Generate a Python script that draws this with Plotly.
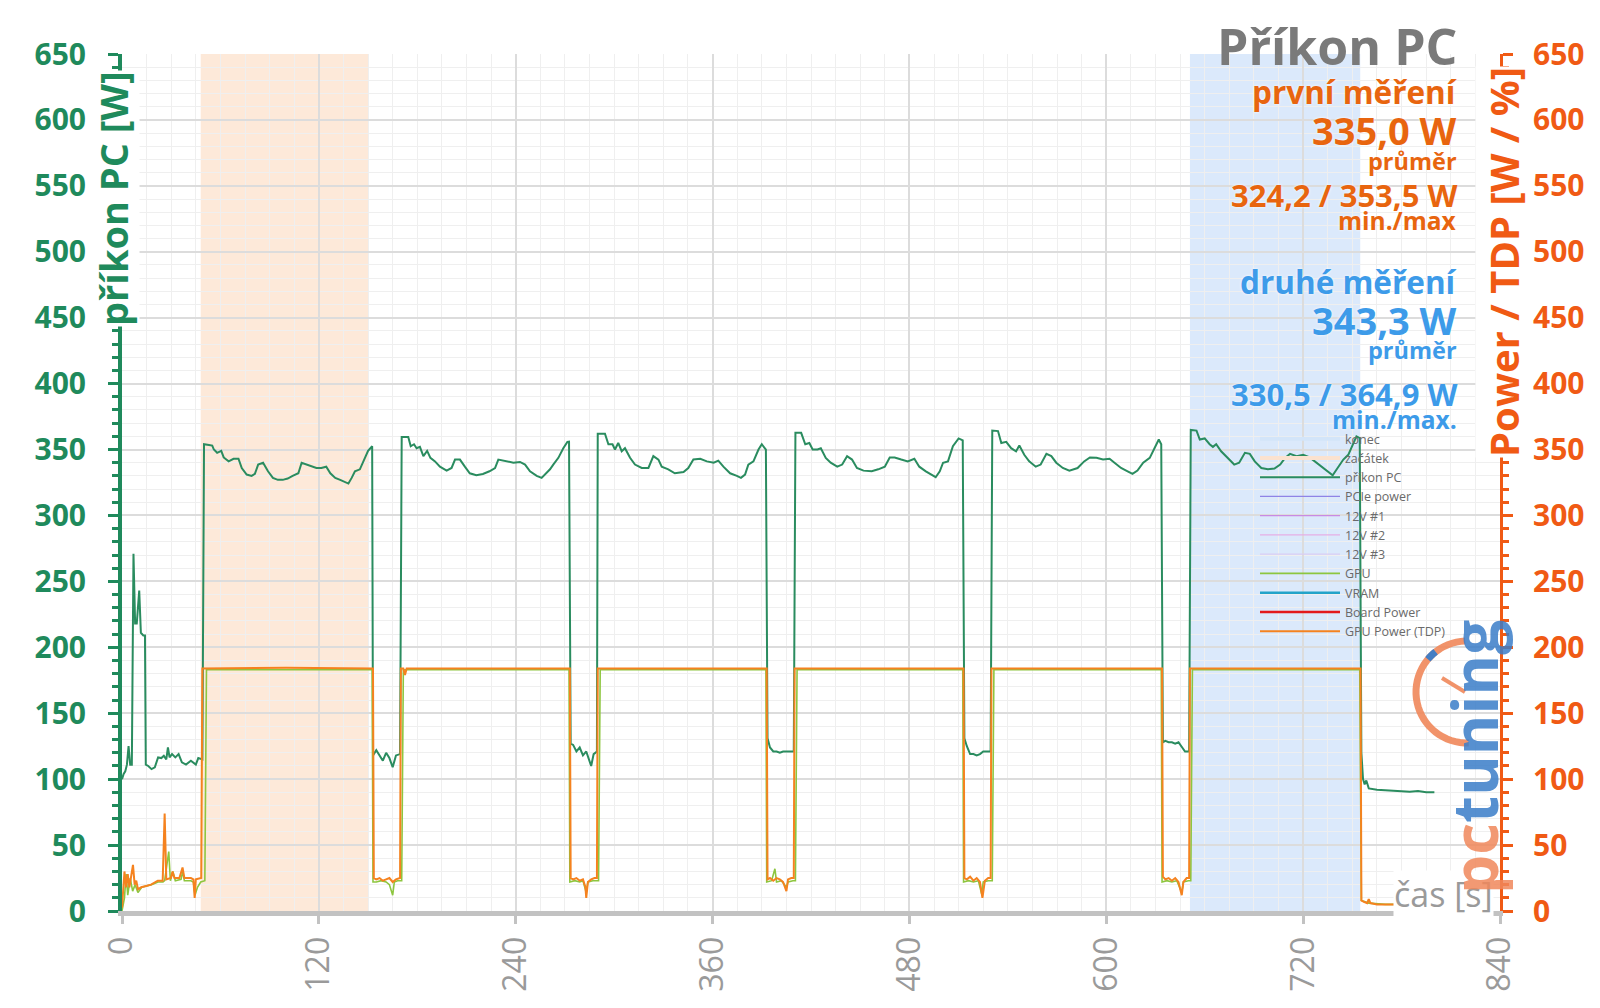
import math
import plotly.graph_objects as go

# ---------------- data ----------------
# příkon PC [W]  (time [s], value)
pc_t = [0, 1, 2, 3, 4, 5, 6, 7, 8, 9, 10.5, 11.5, 13, 14, 14.5, 16, 18, 20, 22, 24, 25.5, 27, 28, 29, 30.5, 32.5, 34.5, 36.5, 39, 42, 45, 46.5, 49,
        50, 53, 55, 56, 58, 60.5, 62, 65, 68, 71, 73, 76, 79, 81, 83, 86, 89, 92, 95, 98, 101, 104, 107.5, 109.5, 112.5, 115.5, 118.5, 121.5, 124.5, 127, 130, 133, 136, 138, 140, 142, 145, 147, 150, 152.5,
        153, 155, 157, 159, 161, 163, 165, 167, 169.5,
        170.5, 174.5, 176, 178, 179.6, 181.6, 183.7, 186, 188, 190.8, 193.8, 197.9, 200.9, 203, 206, 209, 212, 216, 220, 224, 227.4, 229.4, 232.5, 235.5, 238.6, 242.6, 245.7, 248.7, 252.8, 255.8, 257.9, 260.9, 262.9, 266, 269, 271.5, 272.5,
        273.5, 275, 277, 279, 281, 283, 285, 286, 287.5, 289.5,
        290, 294.4, 296.5, 299, 300.5, 302.5, 304.6, 306.6, 309.7, 312.7, 316.8, 320.9, 323.9, 327, 329, 333, 337, 342.3, 345.2, 348.3, 352.5, 356.5, 360.7, 363.5, 366.6, 370.7, 374.8, 377.3, 379.8, 381.8, 384.9, 388, 390, 391.5, 392.5,
        393.5, 395, 397, 399, 401, 403, 405, 407, 409.5,
        410.5, 414, 416.5, 419, 421, 424, 426, 429, 432, 436, 439, 442, 445, 448, 452, 457, 461, 465, 468, 471, 475, 479, 483, 486, 490, 493.5, 496, 498.5, 500.5, 503.5, 506.5, 510, 512.5,
        513.5, 515, 517, 519, 521, 523, 525, 527, 529.5,
        530.5, 534, 536, 539, 542, 545, 547, 550, 553, 557, 560, 563.5, 566.5, 569.5, 573.5, 577.5, 582.5, 586.5, 590, 594, 598, 602, 605, 609, 613, 616, 619, 622.5, 626.5, 629.5, 632, 633.5,
        634.5, 636, 638, 640, 642, 644, 646, 648, 650.5,
        651.5, 655, 657, 660, 663, 665, 667, 670, 674, 678, 681, 684.5, 687.5, 690.5, 694.5, 698.5, 702.5, 706, 709, 712, 716, 720, 724, 727, 731, 735, 738, 741, 744.5, 747.5, 750.5, 752.5, 754.5,
        755.5, 756.5, 757.5, 758.5, 760, 765, 770, 775, 780, 785, 790, 795, 800]
pc_w = [100, 104, 106, 111, 125, 111, 111, 271, 218, 218, 243, 211, 209, 209, 111, 110, 107.6, 109, 116.5, 116, 117.7, 115, 124, 116.5, 119, 116.5, 119, 112.7, 111, 114, 111, 116, 115,
        354, 353.5, 353, 350, 347.5, 349, 344, 341, 343, 343, 336, 331, 330, 331.5, 338.6, 340, 333.5, 328.5, 327, 327, 328, 330, 332, 340, 338.6, 337, 336, 336, 337, 332, 328.5, 327, 325.5, 324.2, 328.5, 333.5, 335, 341, 349, 352.5,
        118, 122, 118, 114, 120, 116, 109, 118, 119,
        359.6, 359.6, 352.5, 354, 351, 352, 345, 349, 343.7, 341, 337, 334, 336, 342.4, 342.4, 337, 332, 330.5, 331.5, 333.5, 336, 342.4, 341.6, 341, 340, 340.6, 338.6, 333.5, 330, 328.5, 331, 335, 338.6, 343.7, 351, 355.8, 356,
        127, 126, 121, 124, 118, 121, 114, 110, 119, 121,
        362, 362, 354, 354, 350, 355, 348.7, 351, 343.7, 338.6, 336, 336, 345, 342.4, 337, 335, 332, 333, 336, 342.4, 343, 341, 340, 341.6, 337, 332, 330, 328.5, 331, 338.6, 341, 350, 354, 351, 350,
        131, 124, 121, 121, 120, 121, 121, 121, 121,
        362.7, 362.7, 354, 355, 350, 350, 351, 343.7, 340, 337, 338.6, 345, 342.4, 336, 334, 333.5, 335, 337, 344, 344, 342.4, 341, 343, 337, 333.5, 331, 329, 333.5, 340, 341, 352.5, 358.4, 357,
        131, 125, 119, 119, 118, 119, 121, 121, 121,
        364.4, 364, 355, 355.8, 351, 348.7, 353, 346, 341, 337, 338.6, 346.7, 345, 340, 336, 334, 336, 341, 344, 343.7, 342.4, 343, 340, 336, 333.5, 331.5, 334, 340, 343.7, 352, 357.6, 354,
        128, 129, 128, 128, 127, 128, 124, 121, 121,
        364.9, 364.4, 357.6, 358.4, 354, 352, 354, 348.7, 343.7, 338.6, 340, 347.5, 346.7, 341, 336, 335, 335.6, 338.6, 343.7, 346.7, 345, 346, 344, 341, 337, 333.5, 330.5, 336, 342.4, 346, 354, 360, 358.7,
        120, 100, 96, 99, 93, 92, 91.5, 91, 91, 90.5, 91, 90, 90]

# GPU Power (TDP) [W]
tdp_t = [0, 1.5, 2.5, 3.5, 4.5, 5.5, 6.7, 7.7, 8.7, 9.7, 11.7, 14.7, 17.7, 21.8, 24.8, 26, 27, 29.8, 30.8, 32, 35, 36.9, 38, 42, 43.5, 44.3, 45, 48.3,
         49, 100, 153,
         153.5, 155, 157, 159, 161, 163, 165, 167, 169.5,
         170, 171.5, 172.5, 173.5, 273,
         273.5, 275, 277, 279, 281, 282.5, 283, 284, 286, 288, 289.5,
         290, 393,
         393.5, 395, 397, 399, 401, 403, 405, 406, 408, 409.5,
         410, 513,
         513.5, 515, 517, 519, 521, 523, 524.5, 526, 528, 529.5,
         530, 634,
         634.5, 636, 638, 640, 642, 644, 646, 647, 649, 650.5,
         651, 755,
         755.5, 757, 759, 760, 761, 765, 770, 780, 790, 800]
tdp_w = [2.5, 30, 18, 28, 18, 26, 35, 20, 23, 16.5, 18, 19, 20, 23, 23, 74, 24, 25, 30, 25, 25, 33, 25, 25, 24, 10, 24, 25,
         184, 184.5, 184,
         25, 24, 25, 23, 24, 25, 22, 24, 25,
         184, 184, 179, 184, 184,
         25, 24, 25, 23, 24, 18, 10, 22, 24, 25, 25,
         184, 184,
         24, 25, 23, 25, 24, 22, 15, 24, 25, 25,
         184, 184,
         25, 24, 26, 23, 25, 22, 10, 23, 25, 25,
         184, 184,
         26, 24, 25, 23, 25, 22, 12, 22, 25, 25,
         184, 184,
         8, 7, 6, 9, 6, 5, 5, 5, 5, 5]

# GPU [W]
gpu_t = [0, 1.5, 2.5, 3.5, 5, 6.5, 8, 9.7, 12, 15, 18, 22, 25, 26, 28.5, 29.5, 31, 32.5, 36, 37, 38, 42, 43.5, 44.5, 46, 48, 50.5,
         51.5, 152.5,
         153, 155, 158, 161, 163, 165, 166, 168, 170.5,
         171.5, 272.5,
         273, 276, 279, 281, 283, 284, 287, 290.5,
         291.5, 392.5,
         393, 396, 398, 399, 402, 405, 406, 409, 410.5,
         411.5, 512.5,
         513, 516, 519, 522, 524, 525, 528, 530.5,
         531.5, 633.5,
         634, 637, 640, 643, 646, 647, 650, 651.5,
         652.5, 754.5,
         755.5, 760, 770, 800]
gpu_w = [0, 10, 28, 12, 25, 15, 20, 14, 18, 19, 20, 22, 22, 23, 45, 23, 30, 23, 24, 30, 23, 23, 22, 12, 18, 22, 23,
         183, 183,
         22, 22, 23, 22, 20, 12, 22, 23, 23,
         183, 183,
         22, 23, 22, 23, 14, 22, 23, 23,
         183, 183,
         22, 23, 32, 22, 23, 18, 22, 23, 23,
         183, 183,
         22, 23, 22, 23, 13, 22, 23, 23,
         183, 183,
         22, 23, 22, 23, 14, 22, 23, 23,
         183, 183,
         8, 6, 5, 5]

# highlighted measurement windows [s]
zacatek_range = [48, 150.5]
konec_range = [651, 754.8]

x_ticks = [0, 120, 240, 360, 480, 600, 720, 840]
y_ticks = [0, 50, 100, 150, 200, 250, 300, 350, 400, 450, 500, 550, 600, 650]

legend_names = ["konec", "začátek", "příkon PC", "PCIe power", "12V #1", "12V #2", "12V #3",
                "GPU", "VRAM", "Board Power", "GPU Power (TDP)"]

info_first = ["první měření", "335,0 W", "průměr", "324,2 / 353,5 W", "min./max"]
info_second = ["druhé měření", "343,3 W", "průměr", "330,5 / 364,9 W", "min./max."]

# ---------------- layout helpers ----------------
W_PX, H_PX = 1600, 1008
L, R, T, B = 122, 1500, 54, 911


def px_x(px):
    return (px - L) / (R - L)


def px_y(py):
    return (B - py) / (B - T)


FONT = "Open Sans"
GREEN = "#1f8a5c"
ORANGE = "#f05a14"
ORANGE_TXT = "#e8650f"
BLUE_TXT = "#3d9be9"
GREY = "#9a9a9a"

fig = go.Figure()

# legend-only entries for the shaded windows
fig.add_trace(go.Scatter(x=[None], y=[None], mode="lines", name=legend_names[0],
                         line=dict(color="#d3e5f9", width=4)))
fig.add_trace(go.Scatter(x=[None], y=[None], mode="lines", name=legend_names[1],
                         line=dict(color="#fbe2cf", width=4)))
fig.add_trace(go.Scatter(x=pc_t, y=pc_w, mode="lines", name=legend_names[2],
                         line=dict(color="#2a8c5f", width=2)))
for nm, col in zip(legend_names[3:7], ["#8f84e6", "#c98ae3", "#e6aee6", "#dacdf3"]):
    fig.add_trace(go.Scatter(x=[None], y=[None], mode="lines", name=nm,
                             line=dict(color=col, width=1.2), yaxis="y2"))
fig.add_trace(go.Scatter(x=gpu_t, y=gpu_w, mode="lines", name=legend_names[7],
                         line=dict(color="#8dc63f", width=1.6), yaxis="y2"))
fig.add_trace(go.Scatter(x=[None], y=[None], mode="lines", name=legend_names[8],
                         line=dict(color="#23a3c9", width=2.5), yaxis="y2"))
fig.add_trace(go.Scatter(x=[None], y=[None], mode="lines", name=legend_names[9],
                         line=dict(color="#e31a1c", width=2.5), yaxis="y2"))
fig.add_trace(go.Scatter(x=tdp_t, y=tdp_w, mode="lines", name=legend_names[10],
                         line=dict(color="#f5821f", width=2), yaxis="y2"))

shapes = [
    dict(type="rect", xref="x", yref="paper", x0=zacatek_range[0], x1=zacatek_range[1], y0=0, y1=1,
         fillcolor="#fde9d9", line=dict(width=0), layer="below"),
    dict(type="rect", xref="x", yref="paper", x0=konec_range[0], x1=konec_range[1], y0=0, y1=1,
         fillcolor="#dbe9fb", line=dict(width=0), layer="below"),
]

# logo gauge (decoration)
cx, cy, r = 1467, 692, 51
arc = []
for i in range(0, 37):
    a = math.radians(92 + i * 5)
    arc.append((cx + r * math.cos(a), cy - r * math.sin(a)))
path = "M" + " L".join(f"{px_x(x):.5f},{px_y(y):.5f}" for x, y in arc)
shapes.append(dict(type="path", xref="paper", yref="paper", path=path,
                   line=dict(color="rgba(240,135,90,0.9)", width=7), layer="above"))
arc2 = []
for i in range(0, 5):
    a = math.radians(128 + i * 3)
    arc2.append((cx + r * math.cos(a), cy - r * math.sin(a)))
path2 = "M" + " L".join(f"{px_x(x):.5f},{px_y(y):.5f}" for x, y in arc2)
shapes.append(dict(type="path", xref="paper", yref="paper", path=path2,
                   line=dict(color="rgba(58,124,200,0.95)", width=7), layer="above"))
shapes.append(dict(type="line", xref="paper", yref="paper",
                   x0=px_x(1442), y0=px_y(678), x1=px_x(1465), y1=px_y(692),
                   line=dict(color="rgba(240,135,90,0.9)", width=4), layer="above"))

glow = "0px 0px 3px #ffffff"
RIGHT_EDGE = 1459
annotations = []
# title block
annotations.append(dict(text="<b>Příkon PC</b>", xref="paper", yref="paper", x=px_x(RIGHT_EDGE), y=px_y(46),
                        xanchor="right", yanchor="middle", showarrow=False,
                        font=dict(family=FONT, size=50, color="#7a7a7a")))
sizes = [31.5, 38, 23.5, 31, 24.5]
ys1 = [92, 130, 161, 195, 220]
ys2 = [281, 320, 350, 394, 419]
for txt, s, yy in zip(info_first, sizes, ys1):
    annotations.append(dict(text=f"<b>{txt}</b>", xref="paper", yref="paper", x=px_x(RIGHT_EDGE), y=px_y(yy),
                            xanchor="right", yanchor="middle", showarrow=False,
                            font=dict(family=FONT, size=s, color=ORANGE_TXT, shadow=glow)))
for txt, s, yy in zip(info_second, sizes, ys2):
    annotations.append(dict(text=f"<b>{txt}</b>", xref="paper", yref="paper", x=px_x(RIGHT_EDGE), y=px_y(yy),
                            xanchor="right", yanchor="middle", showarrow=False,
                            font=dict(family=FONT, size=s, color=BLUE_TXT, shadow=glow)))
# axis titles
annotations.append(dict(text="<b>příkon PC [W]</b>", xref="paper", yref="paper", x=px_x(113), y=px_y(199),
                        xanchor="center", yanchor="middle", textangle=-90, showarrow=False,
                        bgcolor="white", borderpad=0,
                        font=dict(family=FONT, size=38, color=GREEN)))
annotations.append(dict(text="<b>Power / TDP [W / %]</b>", xref="paper", yref="paper", x=px_x(1503), y=px_y(262),
                        xanchor="center", yanchor="middle", textangle=-90, showarrow=False,
                        bgcolor="white", borderpad=0,
                        font=dict(family=FONT, size=40, color=ORANGE)))
annotations.append(dict(text="čas [s]", xref="paper", yref="paper", x=px_x(1494), y=px_y(894),
                        xanchor="right", yanchor="middle", showarrow=False,
                        bgcolor="white", borderpad=0,
                        font=dict(family=FONT, size=34, color=GREY)))
# logo text
annotations.append(dict(text="<b><span style='color:rgba(240,135,90,0.85)'>pc</span>"
                             "<span style='color:rgba(58,124,200,0.85)'>tuning</span></b>",
                        xref="paper", yref="paper", x=px_x(1474), y=px_y(757),
                        xanchor="center", yanchor="middle", textangle=-90, showarrow=False,
                        font=dict(family=FONT, size=62)))

fig.update_layout(
    width=W_PX, height=H_PX,
    margin=dict(l=L, r=W_PX - R, t=T, b=H_PX - B, autoexpand=False),
    paper_bgcolor="white", plot_bgcolor="white",
    font=dict(family=FONT),
    showlegend=True,
    legend=dict(x=px_x(1255), y=px_y(424), xanchor="left", yanchor="top",
                bgcolor="rgba(0,0,0,0)", itemwidth=80,
                font=dict(family=FONT, size=12.5, color="#6a6a6a"),
                tracegroupgap=0),
    shapes=shapes,
    annotations=annotations,
    xaxis=dict(range=[0, 840], tickvals=x_ticks, ticktext=[str(v) for v in x_ticks],
               tickangle=-90, tickfont=dict(family=FONT, size=32, color=GREY),
               showline=True, linecolor="#c2c2c2", linewidth=5,
               ticks="outside", ticklen=8, tickwidth=3, tickcolor="#c2c2c2",
               showgrid=True, gridcolor="#dcdcdc", gridwidth=2,
               minor=dict(dtick=15, showgrid=True, gridcolor="#efefef", gridwidth=1),
               zeroline=False, automargin=False, ticklabelstandoff=0),
    yaxis=dict(range=[0, 650], tickvals=y_ticks, ticktext=[str(v) for v in y_ticks],
               tickfont=dict(family=FONT, size=30, color=GREEN, weight="bold"),
               showline=True, linecolor=GREEN, linewidth=4,
               ticks="outside", ticklen=10, tickwidth=3, tickcolor=GREEN,
               showgrid=True, gridcolor="#dcdcdc", gridwidth=2,
               minor=dict(dtick=10, ticks="outside", ticklen=6, tickwidth=3, tickcolor=GREEN,
                          showgrid=True, gridcolor="#efefef", gridwidth=1),
               zeroline=False, automargin=False, ticklabelstandoff=16),
    yaxis2=dict(range=[0, 650], tickvals=y_ticks, ticktext=[str(v) for v in y_ticks],
                overlaying="y", side="right", anchor="x",
                tickfont=dict(family=FONT, size=30, color=ORANGE, weight="bold"),
                showline=True, linecolor=ORANGE, linewidth=3,
                ticks="outside", ticklen=10, tickwidth=3, tickcolor=ORANGE,
                minor=dict(dtick=10, ticks="outside", ticklen=6, tickwidth=3, tickcolor=ORANGE),
                showgrid=False, zeroline=False, automargin=False, ticklabelstandoff=14),
)

fig.write_html("out.html")
